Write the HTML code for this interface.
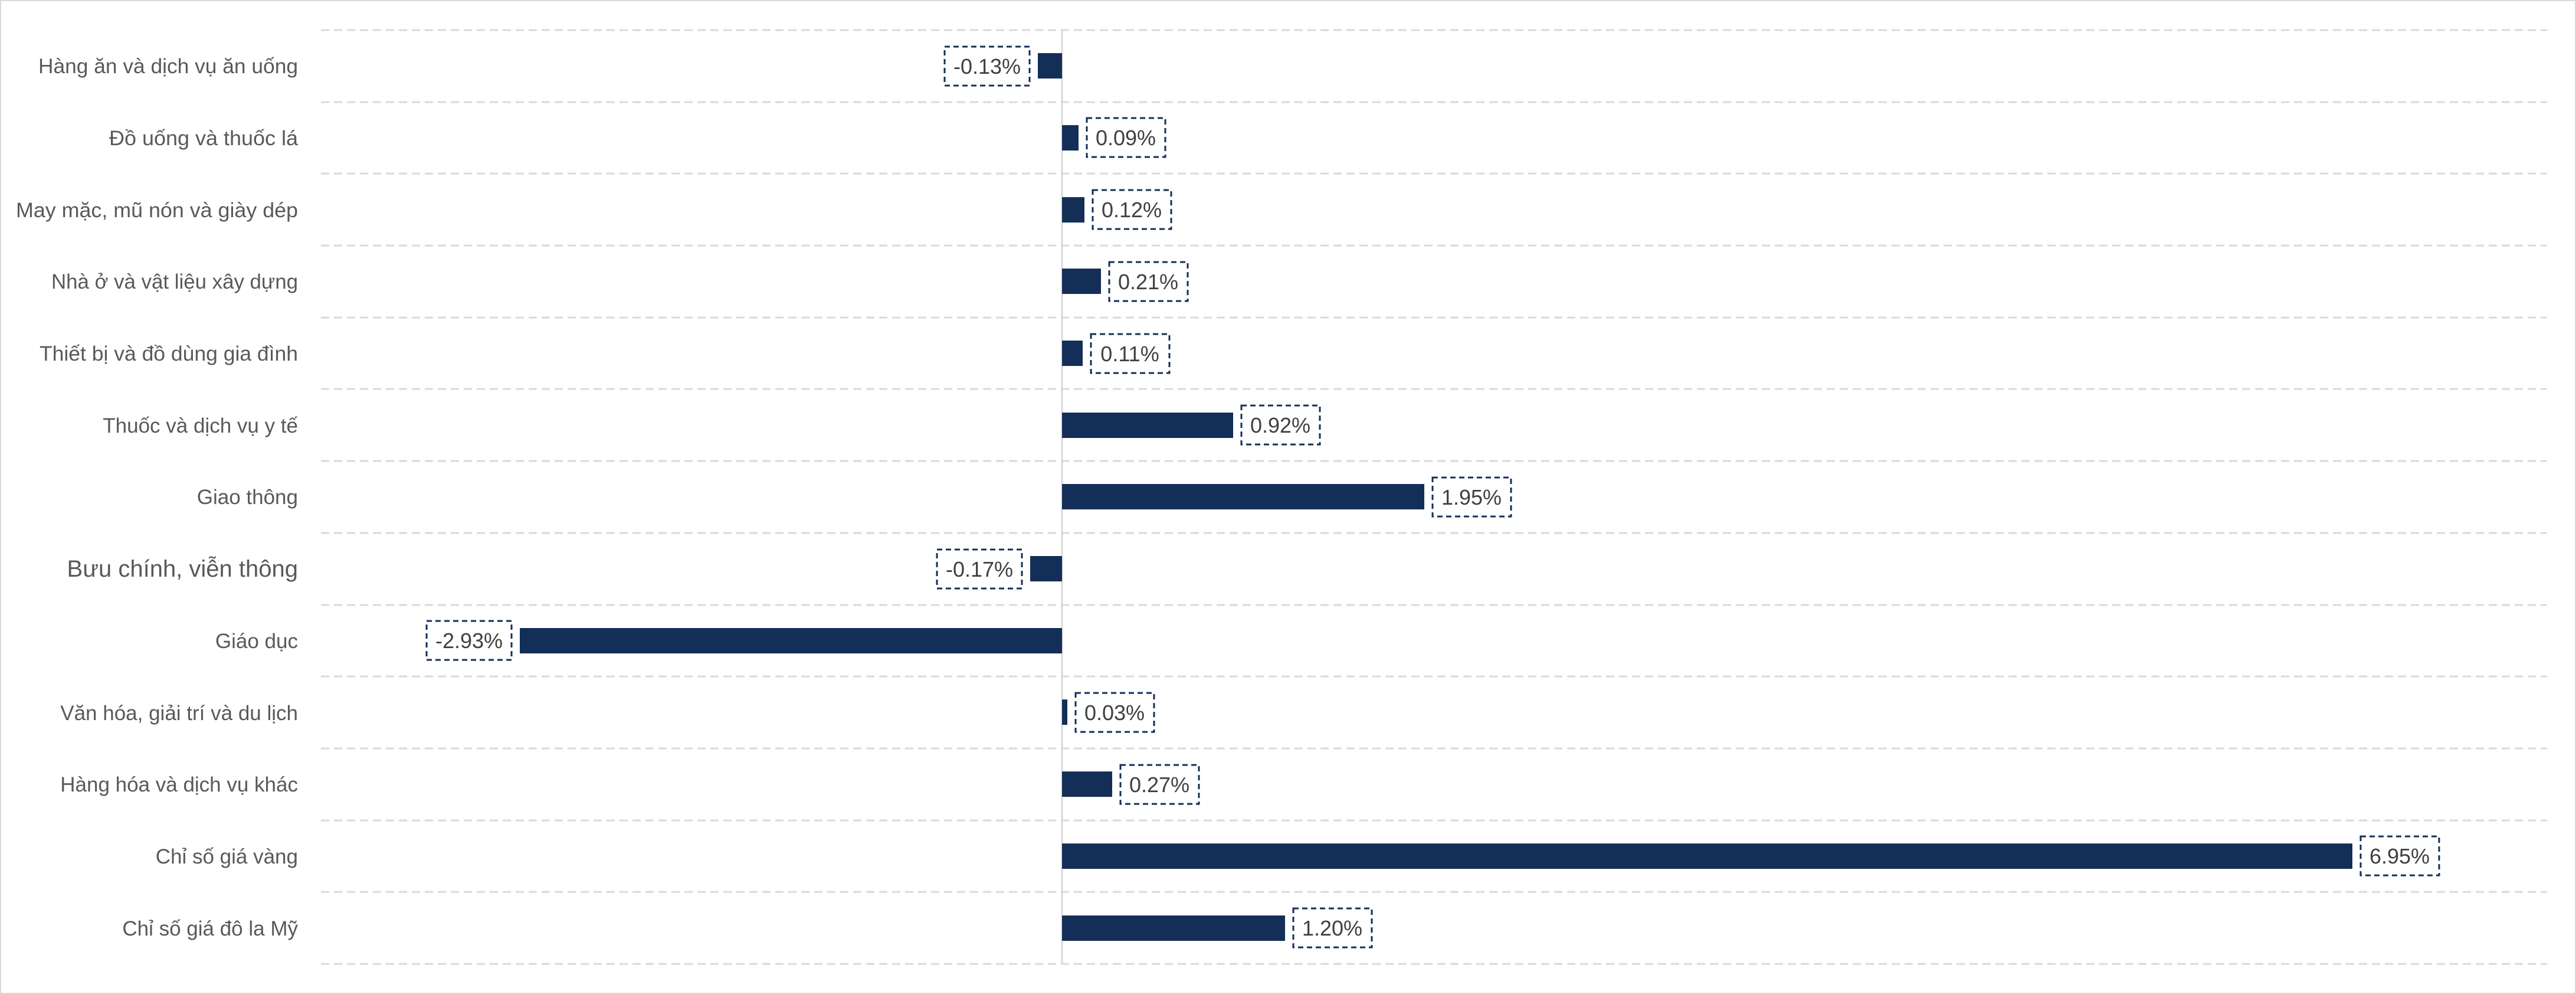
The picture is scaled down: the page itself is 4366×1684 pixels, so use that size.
<!DOCTYPE html>
<html><head><meta charset="utf-8"><style>
html,body{margin:0;padding:0;background:#fff;}
svg{display:block;}
</style></head><body>
<svg width="4366" height="1684" viewBox="0 0 4366 1684" xmlns="http://www.w3.org/2000/svg">
<rect x="1" y="1" width="4364" height="1682" fill="#fff" stroke="#d9d9d9" stroke-width="2"/>
<g stroke="#d9d9d9" stroke-width="3" stroke-dasharray="14 8">
<line x1="544" y1="51" x2="4317" y2="51"/>
<line x1="544" y1="173" x2="4317" y2="173"/>
<line x1="544" y1="294" x2="4317" y2="294"/>
<line x1="544" y1="416" x2="4317" y2="416"/>
<line x1="544" y1="538" x2="4317" y2="538"/>
<line x1="544" y1="659" x2="4317" y2="659"/>
<line x1="544" y1="781" x2="4317" y2="781"/>
<line x1="544" y1="903" x2="4317" y2="903"/>
<line x1="544" y1="1025" x2="4317" y2="1025"/>
<line x1="544" y1="1146" x2="4317" y2="1146"/>
<line x1="544" y1="1268" x2="4317" y2="1268"/>
<line x1="544" y1="1390" x2="4317" y2="1390"/>
<line x1="544" y1="1511" x2="4317" y2="1511"/>
<line x1="544" y1="1633" x2="4317" y2="1633"/>
</g>
<line x1="1800" y1="51" x2="1800" y2="1633" stroke="#d9d9d9" stroke-width="3"/>
<g font-family="Liberation Sans, sans-serif" font-size="35" fill="#595959" text-anchor="end">
<text x="505" y="124" textLength="440" lengthAdjust="spacingAndGlyphs">Hàng ăn và dịch vụ ăn uống</text>
<text x="505" y="246" textLength="320" lengthAdjust="spacingAndGlyphs">Đồ uống và thuốc lá</text>
<text x="505" y="368" textLength="478" lengthAdjust="spacingAndGlyphs">May mặc, mũ nón và giày dép</text>
<text x="505" y="489" textLength="418" lengthAdjust="spacingAndGlyphs">Nhà ở và vật liệu xây dựng</text>
<text x="505" y="611" textLength="438" lengthAdjust="spacingAndGlyphs">Thiết bị và đồ dùng gia đình</text>
<text x="505" y="733">Thuốc và dịch vụ y tế</text>
<text x="505" y="854">Giao thông</text>
<text x="505" y="977" font-size="40">Bưu chính, viễn thông</text>
<text x="505" y="1098">Giáo dục</text>
<text x="505" y="1220">Văn hóa, giải trí và du lịch</text>
<text x="505" y="1341">Hàng hóa và dịch vụ khác</text>
<text x="505" y="1463">Chỉ số giá vàng</text>
<text x="505" y="1585">Chỉ số giá đô la Mỹ</text>
</g>
<g fill="#142f57">
<rect x="1759" y="90" width="41" height="43"/>
<rect x="1800" y="212" width="28" height="43"/>
<rect x="1800" y="334" width="38" height="43"/>
<rect x="1800" y="455" width="66" height="43"/>
<rect x="1800" y="577" width="35" height="43"/>
<rect x="1800" y="699" width="290" height="43"/>
<rect x="1800" y="820" width="614" height="43"/>
<rect x="1746" y="942" width="54" height="43"/>
<rect x="881" y="1064" width="919" height="43"/>
<rect x="1800" y="1185" width="9" height="43"/>
<rect x="1800" y="1307" width="85" height="43"/>
<rect x="1800" y="1429" width="2187" height="43"/>
<rect x="1800" y="1551" width="378" height="43"/>
</g>
<g fill="none" stroke="#142f57" stroke-width="3" stroke-dasharray="9 6">
<rect x="1601" y="79" width="144" height="66"/>
<rect x="1842" y="200" width="133" height="66"/>
<rect x="1852" y="322" width="133" height="66"/>
<rect x="1880" y="444" width="133" height="66"/>
<rect x="1849" y="566" width="133" height="66"/>
<rect x="2104" y="687" width="133" height="66"/>
<rect x="2428" y="809" width="133" height="66"/>
<rect x="1588" y="931" width="144" height="66"/>
<rect x="723" y="1052" width="144" height="66"/>
<rect x="1823" y="1174" width="133" height="66"/>
<rect x="1899" y="1296" width="133" height="66"/>
<rect x="4001" y="1417" width="133" height="66"/>
<rect x="2192" y="1539" width="133" height="66"/>
</g>
<g font-family="Liberation Sans, sans-serif" font-size="36" fill="#404040" text-anchor="middle">
<text x="1673" y="125">-0.13%</text>
<text x="1908" y="246">0.09%</text>
<text x="1918" y="368">0.12%</text>
<text x="1946" y="490">0.21%</text>
<text x="1915" y="612">0.11%</text>
<text x="2170" y="733">0.92%</text>
<text x="2494" y="855">1.95%</text>
<text x="1660" y="977">-0.17%</text>
<text x="795" y="1098">-2.93%</text>
<text x="1889" y="1220">0.03%</text>
<text x="1965" y="1342">0.27%</text>
<text x="4067" y="1463">6.95%</text>
<text x="2258" y="1585">1.20%</text>
</g>
</svg>
</body></html>
